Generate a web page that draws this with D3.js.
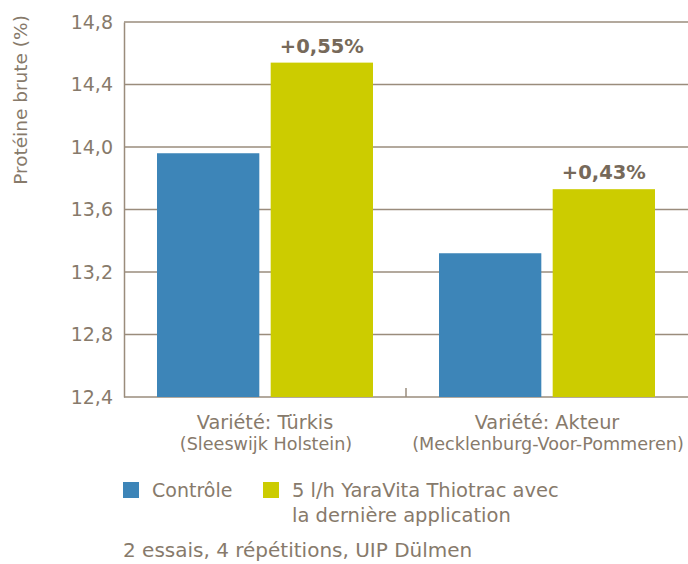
<!DOCTYPE html>
<html>
<head>
<meta charset="utf-8">
<script src="https://cdn.jsdelivr.net/npm/d3@7"></script>
<style>
  body { margin: 0; background: #fff; }
  text { font-family: "DejaVu Sans", sans-serif; fill: #877a6b; }
</style>
</head>
<body>
<svg id="chart" width="688" height="564"></svg>
<script>
// data
const groups = ["Türkis", "Akteur"];
const groupLabels = ["Variété: Türkis", "Variété: Akteur"];
const regions = ["(Sleeswijk Holstein)", "(Mecklenburg-Voor-Pommeren)"];
const series = ["Contrôle", "5 l/h YaraVita Thiotrac avec la dernière application"];
const controle = [13.96, 13.32];
const thiotrac = [14.54, 13.73];
const gains = ["+0,55%", "+0,43%"];
const yTicks = [12.4, 12.8, 13.2, 13.6, 14.0, 14.4, 14.8];

const colours = ["#3d85b8", "#cccc00"];
const lineColour = "#9a8c7c";

const svg = d3.select("#chart");
const margin = { top: 22, right: 0, bottom: 167, left: 124 };
const width = 688 - margin.left - margin.right;
const height = 564 - margin.top - margin.bottom;

const chartArea = svg.append("g")
    .attr("transform", `translate(${margin.left},${margin.top})`);

const x0 = d3.scaleBand().domain(groups).range([0, width]);
const x1 = d3.scaleBand().domain([0, 1]).range([33, 249]).paddingInner(0.1);
const y = d3.scaleLinear().domain([12.4, 14.8]).range([height, 0]);

// gridlines
chartArea.selectAll("line.grid")
    .data(yTicks.slice(1))
    .join("line")
    .attr("class", "grid")
    .attr("x1", 0)
    .attr("x2", width)
    .attr("y1", d => y(d))
    .attr("y2", d => y(d))
    .attr("stroke", lineColour)
    .attr("stroke-width", 1.5);

// y axis
const yAxis = chartArea.append("g")
    .call(d3.axisLeft(y).tickValues(yTicks).tickSize(0).tickPadding(11)
        .tickFormat(d => d3.format(".1f")(d).replace(".", ",")));
yAxis.select(".domain").attr("stroke", lineColour).attr("stroke-width", 1.5);
yAxis.selectAll("text")
    .attr("font-size", 19)
    .attr("fill", "#877a6b")
    .style("font-family", "DejaVu Sans, sans-serif");

// x axis
chartArea.append("line")
    .attr("x1", 0).attr("x2", width)
    .attr("y1", height).attr("y2", height)
    .attr("stroke", lineColour)
    .attr("stroke-width", 1.5);
chartArea.append("line")
    .attr("x1", x0(groups[1])).attr("x2", x0(groups[1]))
    .attr("y1", height).attr("y2", height - 9)
    .attr("stroke", lineColour)
    .attr("stroke-width", 1.5);

// bars
const rows = groups.map((g, i) => ({ g, i, values: [controle[i], thiotrac[i]] }));

const groupG = chartArea.selectAll("g.group")
    .data(rows)
    .join("g")
    .attr("class", "group")
    .attr("transform", d => `translate(${x0(d.g)},0)`);

groupG.selectAll("rect")
    .data(d => d.values.map((v, k) => ({ v, k })))
    .join("rect")
    .attr("x", d => x1(d.k))
    .attr("y", d => y(d.v))
    .attr("width", x1.bandwidth())
    .attr("height", d => height - y(d.v))
    .attr("fill", d => colours[d.k]);

groupG.append("text")
    .attr("x", x1(1) + x1.bandwidth() / 2)
    .attr("y", d => y(d.values[1]) - 10)
    .attr("text-anchor", "middle")
    .attr("font-size", 19.5)
    .attr("font-weight", "bold")
    .style("fill", "#76695a")
    .text(d => gains[d.i]);

groupG.append("text")
    .attr("x", x0.bandwidth() / 2)
    .attr("y", height + 32)
    .attr("text-anchor", "middle")
    .attr("font-size", 19.3)
    .text(d => groupLabels[d.i]);

groupG.append("text")
    .attr("x", x0.bandwidth() / 2 + 1)
    .attr("y", height + 53)
    .attr("text-anchor", "middle")
    .attr("font-size", 17.6)
    .text(d => regions[d.i]);

// y label
svg.append("text")
    .attr("transform", "translate(27,100)rotate(-90)")
    .attr("text-anchor", "middle")
    .attr("font-size", 18.5)
    .text("Protéine brute (%)");

// legend
const legend = svg.append("g").attr("transform", "translate(123,482)");
const legendX = [0, 140];
legend.selectAll("rect")
    .data(series)
    .join("rect")
    .attr("x", (d, i) => legendX[i])
    .attr("y", 0)
    .attr("width", 16)
    .attr("height", 16)
    .attr("fill", (d, i) => colours[i]);

legend.append("text")
    .attr("x", legendX[0] + 29)
    .attr("y", 15)
    .attr("font-size", 19)
    .text(series[0]);

const lt = legend.append("text")
    .attr("x", legendX[1] + 29)
    .attr("y", 15)
    .attr("font-size", 19.5);
lt.append("tspan").attr("x", legendX[1] + 29).attr("dy", 0).text("5 l/h YaraVita Thiotrac avec");
lt.append("tspan").attr("x", legendX[1] + 29).attr("dy", 25).text("la dernière application");

svg.append("text")
    .attr("x", 123)
    .attr("y", 557)
    .attr("font-size", 20)
    .text("2 essais, 4 répétitions, UIP Dülmen");
</script>
</body>
</html>
